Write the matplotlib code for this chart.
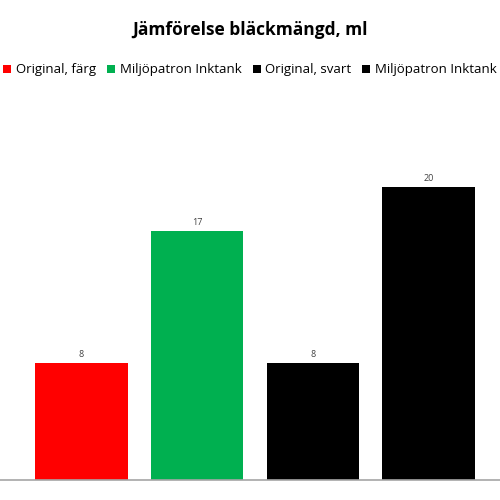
import matplotlib
matplotlib.use("Agg")
import matplotlib.pyplot as plt
from matplotlib.patches import Patch

title = "Jämförelse bläckmängd, ml"
series = ["Original, färg", "Miljöpatron Inktank", "Original, svart", "Miljöpatron Inktank"]
values = [8, 17, 8, 20]
colors = ["#FF0000", "#00B050", "#000000", "#000000"]

plt.rcParams['font.family'] = ['Open Sans', 'DejaVu Sans']

fig = plt.figure(figsize=(5, 5), dpi=100)
ax = fig.add_axes([0, 0.04, 1, 0.76])

x = list(range(len(values)))
bars = ax.bar(x, values, width=0.80, color=colors)
for xi, v in zip(x, values):
    ax.annotate(str(v), (xi, v), xytext=(0, 3), textcoords="offset points",
                ha="center", va="bottom", fontsize=6.5, color="#404040")

ax.set_xlim(-0.705, 3.618)
ax.set_ylim(0, 25.94)
for s in ["top", "right", "left"]:
    ax.spines[s].set_visible(False)
ax.spines["bottom"].set_color("#A6A6A6")
ax.spines["bottom"].set_linewidth(1.2)
ax.set_xticks([])
ax.set_yticks([])

handles = [Patch(facecolor=c) for c in colors]
fig.legend(handles, series, loc="center", bbox_to_anchor=(0.5, 0.86), ncol=4,
           frameon=False, fontsize=9.5, handlelength=0.6, handleheight=0.6,
           handletextpad=0.35, columnspacing=0.85, borderaxespad=0)

fig.text(0.5, 0.94, title, ha="center", va="center", fontsize=12.5, fontweight="bold")

fig.savefig("out.png", dpi=100)
